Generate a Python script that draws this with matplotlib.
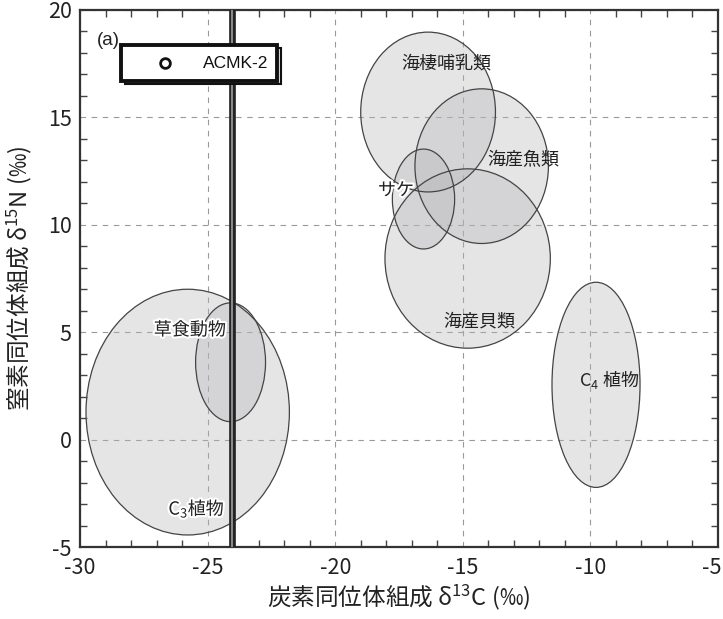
import matplotlib
matplotlib.use("Agg")
import matplotlib.pyplot as plt
from matplotlib.patches import Ellipse, Rectangle
from matplotlib.lines import Line2D
from matplotlib.ticker import MultipleLocator
import matplotlib.patheffects as pe
import matplotlib.transforms as mtransforms

plt.rcParams['font.family'] = ['Noto Sans CJK JP', 'DejaVu Sans']
plt.rcParams['mathtext.fontset'] = 'custom'
plt.rcParams['mathtext.rm'] = 'Noto Sans CJK JP'
plt.rcParams['mathtext.it'] = 'Noto Sans CJK JP'
plt.rcParams['mathtext.bf'] = 'Noto Sans CJK JP'

# ---- data ----
groups = ['C$_3$植物', '草食動物', '海棲哺乳類', '海産魚類', 'サケ', '海産貝類', 'C$_4$ 植物']
center_x = [-25.78, -24.10, -16.36, -14.26, -16.54, -14.81, -9.78]
center_y = [1.28, 3.60, 15.25, 12.73, 11.20, 8.43, 2.55]
width_x = [7.97, 2.74, 5.28, 5.23, 2.44, 6.48, 3.45]
height_y = [11.44, 5.53, 7.44, 7.20, 4.65, 8.35, 9.55]
label_x = [-25.43, -25.70, -15.66, -12.62, -17.62, -14.34, -9.26]
label_y = [-3.19, 5.09, 17.51, 13.00, 11.60, 5.51, 2.81]
label_halo = [True, True, False, False, True, False, False]
acmk_name = 'ACMK-2'
acmk_d13c = -24.05

xlim = (-30, -5)
ylim = (-5, 20)
xticks = [-30, -25, -20, -15, -10, -5]
yticks = [-5, 0, 5, 10, 15, 20]

fig = plt.figure(figsize=(7.23, 6.19), dpi=100)
ax = fig.add_axes([80/723, 1-547/619, 638/723, 537/619])
ax.set_xlim(*xlim)
ax.set_ylim(*ylim)
ax.set_xticks(xticks)
ax.set_yticks(yticks)
ax.set_xticklabels([str(t) for t in xticks])
ax.set_yticklabels([str(t) for t in yticks])
ax.xaxis.set_minor_locator(MultipleLocator(1))
ax.yaxis.set_minor_locator(MultipleLocator(1))
ax.tick_params(which='both', direction='in', top=True, right=True,
               color='#444444', width=1.0)
ax.tick_params(which='major', length=0, labelsize=15.5, labelcolor='#222222')
ax.tick_params(axis='x', which='major', pad=7)
ax.tick_params(axis='y', which='major', pad=6)
ax.tick_params(which='minor', length=5)
for s in ax.spines.values():
    s.set_linewidth(1.6)
    s.set_color('#333333')

# shift the last x tick label left so it stays inside the figure
last = ax.get_xticklabels()[-1]
last.set_transform(last.get_transform() +
                   mtransforms.ScaledTranslation(-6/100, 0, fig.dpi_scale_trans))

ax.grid(True, which='major', linestyle=(0, (5, 5)), color='#999999', linewidth=0.8)
ax.set_axisbelow(True)

for cx, cy, w, h in zip(center_x, center_y, width_x, height_y):
    e = Ellipse((cx, cy), w, h, facecolor='#b5b6b9', alpha=0.35,
                edgecolor='none', zorder=2)
    ax.add_patch(e)
    e2 = Ellipse((cx, cy), w, h, facecolor='none', edgecolor='#444444',
                 linewidth=0.9, zorder=3)
    ax.add_patch(e2)

for name, lx, ly, halo in zip(groups, label_x, label_y, label_halo):
    t = ax.text(lx, ly, name, fontsize=13, ha='center', va='center',
                color='#222222', zorder=6)
    if halo:
        t.set_path_effects([pe.withStroke(linewidth=3, foreground='white')])

# ACMK-2 vertical line
ax.axvline(acmk_d13c, color='#222222', linewidth=4.8, zorder=5)
ax.axvline(acmk_d13c, color='#8a8a8a', linewidth=1.5, zorder=5)

ax.text(-29.32, 18.58, '(a)', fontsize=13.5, ha='left', va='center',
        color='#222222', family=['Liberation Sans'], zorder=7)

# legend box (drawn in figure pixels)
def fx(px):
    return px / 723
def fy(py):
    return 1 - py / 619

shadow = Rectangle((fx(124.5), fy(84)), fx(277) - fx(120.7), fy(45) - fy(81),
                   transform=fig.transFigure, facecolor='#dddddd', edgecolor='#111111',
                   linewidth=1.5, zorder=8)
box = Rectangle((fx(120.7), fy(81)), fx(277) - fx(120.7), fy(45) - fy(81),
                transform=fig.transFigure, facecolor='white', edgecolor='#111111',
                linewidth=2.8, zorder=9)
fig.add_artist(shadow)
fig.add_artist(box)
mk = Line2D([fx(165)], [fy(63)], transform=fig.transFigure, marker='o',
            markersize=7, markerfacecolor='white', markeredgecolor='#111111',
            markeredgewidth=2.0, linestyle='none', zorder=10)
fig.add_artist(mk)
fig.text(fx(203), fy(63), acmk_name, fontsize=12.5, ha='left', va='center',
         family=['Liberation Sans'], color='#111111', zorder=10)

ax.set_xlabel('炭素同位体組成 δ$^{13}$C (‰)', fontsize=17, color='#222222', labelpad=3)
ax.set_ylabel('窒素同位体組成 δ$^{15}$N (‰)', fontsize=17, color='#222222', labelpad=10)

fig.savefig('out.png', dpi=100)
